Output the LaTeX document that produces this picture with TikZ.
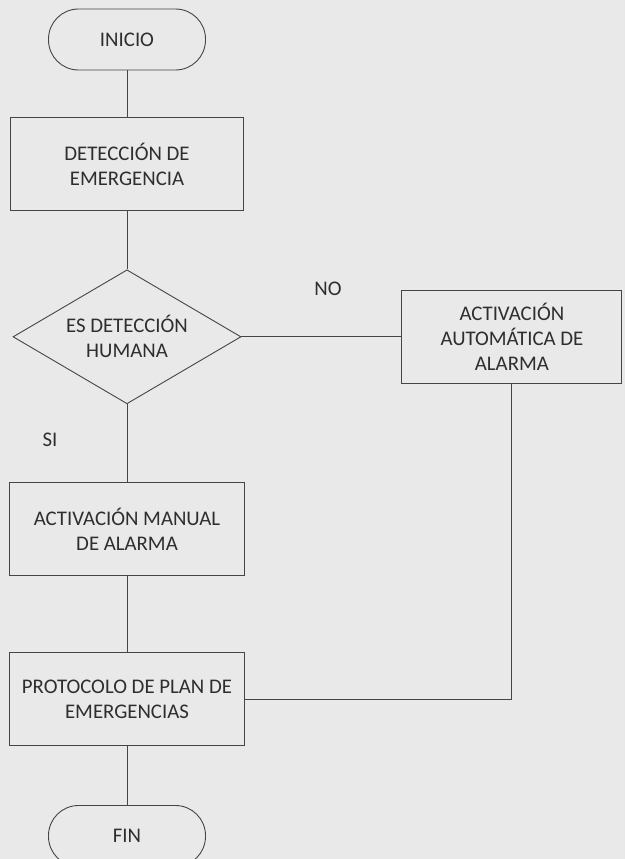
\documentclass[tikz,border=0pt]{standalone}
\usepackage{fontspec}
\setmainfont{Carlito}
\usetikzlibrary{positioning,shapes.geometric}
\definecolor{fpaper}{HTML}{E9E9E9}
\definecolor{fline}{HTML}{454545}
\definecolor{ftext}{HTML}{2E2E2E}
\newcommand{\flowfont}{\fontsize{20.8}{25}\selectfont}
\tikzset{
  term/.style={draw=fline,rounded corners=30pt,minimum width=157pt,minimum height=61pt,line width=0.9pt,font=\flowfont,text=ftext,inner sep=4pt},
  box/.style={draw=fline,minimum height=93pt,line width=0.9pt,align=center,font=\flowfont,text=ftext,inner sep=2pt},
  cond/.style={diamond,aspect=1.7,draw=fline,minimum width=228pt,minimum height=134pt,line width=0.9pt,align=center,font=\flowfont,text=ftext,inner sep=0pt},
  ln/.style={line width=0.9pt,draw=fline},
  lbl/.style={font=\flowfont,text=ftext},
}
\begin{document}
\begin{tikzpicture}[x=1pt,y=1pt,node distance=47pt]
  \fill[fpaper] (0,0) rectangle (625,-859);
  \useasboundingbox (0,0) rectangle (625,-859);
  \node[term] (ini) at (127,-39.5) {INICIO};
  \node[box,minimum width=233pt,below=47pt of ini] (det) {DETECCIÓN DE\\EMERGENCIA};
  \node[cond,below=58pt of det] (hum) {ES DETECCIÓN\\HUMANA};
  \node[box,minimum width=220pt,right=160pt of hum] (auto) {ACTIVACIÓN\\AUTOMÁTICA DE\\ALARMA};
  \node[box,minimum width=235pt,below=78pt of hum] (man) {ACTIVACIÓN MANUAL\\DE ALARMA};
  \node[box,minimum width=235pt,below=76pt of man] (prot) {PROTOCOLO DE PLAN DE\\EMERGENCIAS};
  \node[term,below=59pt of prot] (fin) {FIN};
  \node[lbl] (no) at (328,-289) {NO};
  \node[lbl] (si) at (50,-440) {SI};
  \coordinate (k) at (auto.south |- prot.east);
  \foreach \a/\b in {ini/det,det/hum,hum/man,man/prot,prot/fin,hum/auto} \draw[ln] (\a) -- (\b);
  \draw[ln] (auto) -- (k) -- (prot);
\end{tikzpicture}
\end{document}
